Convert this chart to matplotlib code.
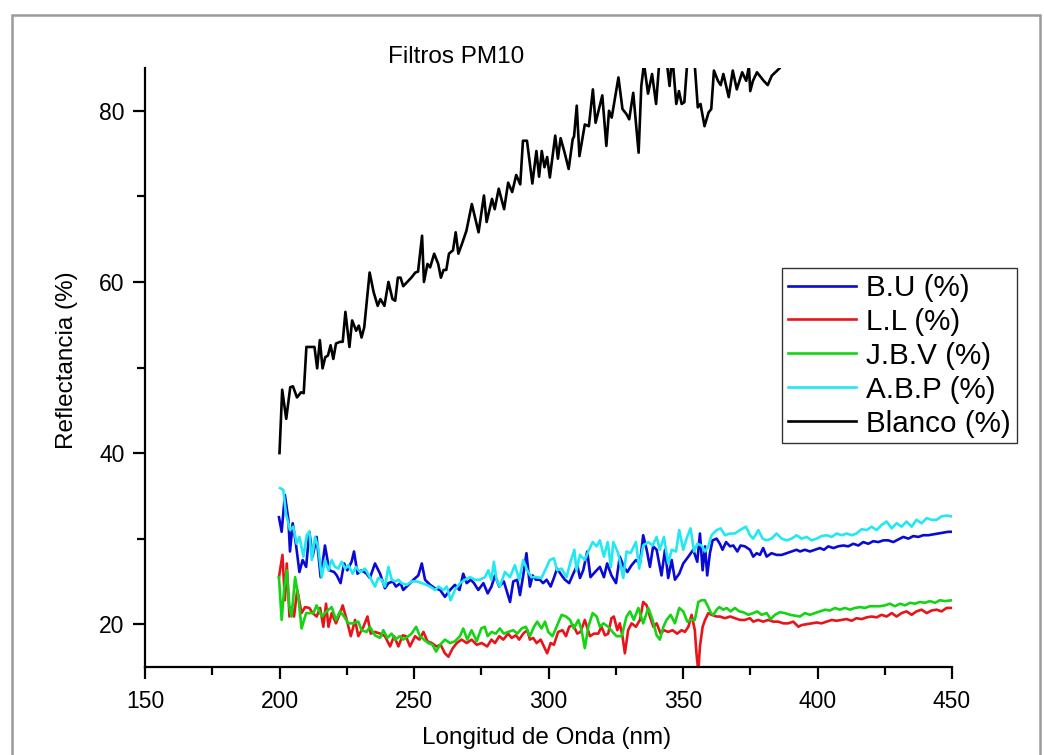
import matplotlib
matplotlib.use("Agg")
import matplotlib.pyplot as plt
from matplotlib.patches import Rectangle
from matplotlib.ticker import MultipleLocator

plt.rcParams['font.family'] = ['Liberation Sans', 'DejaVu Sans']

# ---------------- data ----------------
blanco_wl = [200, 201, 202.5, 204, 205, 206.5, 208, 209, 210, 212, 213, 214, 215, 216, 217, 218, 219, 220,
             221, 222.5, 223.5, 224.5, 226, 227, 228.5, 229.5, 230.5, 231.5, 233.5, 235, 236.5, 237.5, 239,
             240.5, 242, 243, 244, 245, 246, 247.5, 249, 250.5, 251.5, 253, 253.7, 255, 256, 257.5, 259, 260,
             261, 262, 263, 264.5, 265.5, 266.5, 268, 269.5, 271.5, 274, 276, 277, 279, 280, 281.5, 283.5,
             285, 286.5, 288, 289.5, 290.5, 292, 294, 295.5, 296.5, 297.5, 298.5, 299.5, 300.5, 302.5, 303.5,
             304.5, 306, 307.5, 309, 309.5, 310.5, 311.5, 313.5, 315, 316.5, 317.5, 320, 321.5, 322.5, 323.5,
             326, 327.5, 329, 330, 331.5, 333.5, 334.5, 335.5, 337, 338.5, 340, 341.5, 343.5, 345, 346, 347.5,
             348.5, 349.5, 350.5, 352, 354, 355.5, 356.5, 358, 359.5, 360.5, 361.5, 363, 364, 365, 367, 368.5,
             370, 371, 372, 373.5, 374.5, 375, 376, 377.5, 378.5, 380, 381.5, 383, 385, 386, 388, 390]
blanco_val = [40.0, 47.4, 44.0, 47.7, 47.8, 46.5, 47.1, 47.0, 52.4, 52.4, 52.4, 49.9, 53.2, 49.9, 51.2, 51.4,
              52.6, 51.0, 52.8, 53.0, 53.0, 56.5, 52.4, 55.5, 54.3, 54.9, 53.5, 54.7, 61.1, 58.8, 57.2, 58.0,
              57.2, 60.0, 58.0, 57.8, 60.5, 60.5, 59.5, 60.0, 60.5, 61.1, 61.2, 65.4, 60.0, 62.1, 61.7, 63.3,
              62.1, 60.5, 61.4, 61.4, 63.3, 63.7, 65.8, 63.3, 64.6, 66.0, 69.1, 65.8, 70.1, 67.0, 69.7, 68.5,
              70.9, 68.5, 71.6, 70.5, 72.5, 71.4, 76.5, 76.5, 71.5, 75.3, 72.3, 75.3, 73.4, 74.6, 72.2, 77.1,
              74.4, 76.8, 75.1, 73.2, 76.7, 77.0, 80.6, 74.7, 78.4, 78.2, 82.5, 78.6, 81.8, 75.9, 80.0, 79.2,
              83.9, 80.2, 79.6, 79.0, 82.1, 75.1, 82.9, 85.5, 82.0, 84.3, 80.8, 87.0, 87.0, 82.9, 86.5, 80.8,
              82.3, 80.8, 81.0, 87.5, 87.0, 80.4, 80.8, 78.2, 79.8, 80.2, 84.7, 83.5, 83.0, 84.3, 81.6, 84.7,
              82.5, 83.5, 84.5, 83.5, 85.2, 82.3, 83.5, 84.5, 84.1, 83.5, 83.0, 84.1, 84.7, 85.0, 86.0, 87.0]

bu_wl = [199.8, 200.8, 202.0, 203.3, 203.9, 204.9, 206.1, 207.4, 208.6, 209.9, 211.1, 212.3, 213.8, 215.3,
         216.9, 218.5, 220.3, 221.3, 222.7, 224.0, 225.2, 226.8, 227.7, 229.0, 230.5, 232.4, 233.6, 235.5,
         237.4, 239.2, 240.5, 242.1, 243.3, 245.0, 246.0, 247.9, 249.8, 251.6, 252.9, 254.1, 256.0, 257.8,
         259.7, 261.5, 263.4, 265.2, 266.9, 268.3, 269.6, 271.1, 272.3, 273.9, 275.8, 277.4, 278.8, 280.1,
         281.7, 283.4, 285.7, 286.9, 288.4, 289.4, 290.6, 291.8, 293.1, 294.1, 295.3, 296.8, 298.0, 299.3,
         300.8, 302.0, 303.2, 304.9, 306.1, 307.7, 309.2, 310.7, 311.7, 312.9, 314.4, 315.6, 317.3, 319.1,
         320.6, 321.8, 323.4, 325.1, 326.5, 328.0, 329.3, 330.9, 332.5, 334.0, 335.2, 336.5, 337.7, 338.9,
         340.2, 342.0, 343.3, 344.5, 345.8, 347.0, 348.6, 350.1, 352.0, 353.8, 355.3, 356.3, 357.3, 358.2,
         359.0, 360.0, 361.0, 362.5, 363.7, 364.7, 366.0, 367.5, 368.7, 370.2, 371.4, 373.0, 374.9, 376.1,
         377.4, 378.6, 379.8, 381.1, 382.9, 384.8, 386.7, 388.5, 390.4, 392.2, 393.5, 395.3, 397.2, 399.1,
         400.9, 402.4, 404.0, 405.9, 407.7, 409.6, 411.4, 413.3, 415.2, 417.0, 418.9, 420.7, 422.6, 424.5,
         426.3, 428.2, 430.0, 431.9, 433.8, 435.6, 437.5, 439.3, 441.2, 443.0, 444.9, 446.8, 448.6, 450.0]
bu_val = [32.5, 30.8, 35.1, 32.2, 28.5, 31.8, 29.4, 26.1, 27.5, 26.7, 30.8, 27.9, 30.2, 25.5, 29.2, 26.3,
          26.1, 25.7, 24.8, 27.1, 26.3, 27.3, 28.5, 25.9, 26.3, 25.9, 25.4, 27.1, 25.9, 24.2, 24.8, 25.0,
          24.4, 24.8, 24.0, 24.6, 25.2, 25.7, 27.1, 25.2, 24.6, 24.2, 24.0, 23.2, 24.0, 24.6, 24.0, 25.9,
          24.8, 25.2, 24.8, 24.0, 24.8, 23.6, 24.4, 25.7, 24.4, 25.0, 22.6, 25.0, 25.2, 23.4, 25.7, 28.3,
          24.4, 25.7, 25.2, 25.2, 24.8, 25.2, 24.4, 25.4, 26.5, 25.7, 25.2, 24.8, 25.9, 26.9, 25.4, 26.3,
          28.5, 25.5, 26.1, 26.7, 25.5, 27.1, 25.7, 24.8, 27.9, 26.7, 26.1, 26.9, 27.5, 27.1, 30.4, 28.7,
          26.7, 29.1, 28.7, 25.7, 28.7, 25.4, 27.5, 25.2, 25.9, 27.1, 27.9, 28.7, 27.3, 30.6, 26.3, 29.1,
          25.7, 28.3, 29.8, 30.0, 29.4, 28.7, 29.6, 29.1, 29.2, 28.5, 29.2, 29.1, 28.7, 27.9, 28.3, 28.1,
          28.9, 27.9, 28.3, 28.1, 28.1, 28.3, 28.5, 28.7, 28.5, 28.7, 28.5, 28.7, 28.9, 28.7, 29.1, 28.9,
          29.1, 29.2, 29.1, 29.4, 29.2, 29.6, 29.4, 29.7, 29.6, 29.8, 29.8, 29.6, 29.9, 30.2, 30.0, 30.3,
          30.2, 30.4, 30.4, 30.5, 30.6, 30.7, 30.8, 30.8]

ll_wl = [199.8, 201.1, 202.0, 202.7, 203.7, 204.5, 205.4, 206.6, 208.2, 209.5, 211.1, 212.3, 213.8, 215.1,
         216.3, 217.3, 218.2, 219.4, 221.0, 222.5, 223.5, 225.0, 226.5, 228.1, 229.3, 231.2, 232.7, 233.9,
         235.5, 237.4, 239.2, 241.1, 242.6, 244.2, 245.8, 247.0, 248.5, 250.4, 252.0, 253.5, 255.0, 256.6,
         258.4, 259.9, 261.5, 262.8, 264.4, 265.9, 267.7, 269.6, 271.4, 273.3, 275.2, 277.2, 278.8, 280.1,
         281.7, 283.2, 285.0, 286.3, 287.9, 289.1, 290.6, 292.1, 293.1, 294.3, 295.6, 297.1, 298.3, 299.5,
         300.8, 302.0, 303.6, 305.2, 306.5, 307.7, 309.2, 310.7, 311.9, 313.5, 315.4, 316.9, 318.5, 319.7,
         321.0, 322.2, 323.4, 324.3, 325.6, 326.5, 327.5, 328.4, 329.6, 330.9, 332.5, 334.0, 335.2, 336.5,
         337.7, 339.0, 340.2, 341.7, 342.9, 344.5, 346.1, 347.8, 349.5, 350.7, 352.0, 353.2, 354.4, 355.0,
         355.7, 356.3, 357.3, 358.2, 359.4, 360.6, 362.5, 363.7, 365.6, 367.5, 369.3, 371.2, 373.0, 374.9,
         376.1, 378.0, 379.8, 381.7, 383.6, 385.4, 387.3, 389.1, 391.0, 392.9, 394.1, 396.0, 397.8, 399.7,
         401.5, 403.4, 405.3, 407.1, 409.0, 410.8, 412.7, 414.5, 416.4, 418.3, 420.1, 422.0, 423.8, 425.7,
         427.6, 429.4, 431.3, 433.1, 435.0, 436.8, 438.7, 440.6, 442.4, 444.3, 446.1, 448.0, 450.0]
ll_val = [25.5, 28.1, 22.8, 27.1, 20.9, 22.0, 20.9, 24.0, 21.3, 22.0, 21.9, 21.3, 20.9, 21.9, 19.7, 22.4,
          19.7, 21.3, 20.1, 21.3, 22.2, 20.5, 18.6, 20.5, 18.6, 19.7, 20.9, 18.9, 19.1, 18.9, 18.6, 17.4,
          18.6, 17.4, 18.7, 18.6, 17.4, 18.6, 18.2, 19.1, 18.0, 17.8, 17.4, 17.6, 16.6, 16.2, 17.2, 17.8,
          18.2, 17.8, 18.2, 17.6, 17.8, 17.4, 18.2, 17.8, 18.6, 18.2, 18.9, 18.4, 18.7, 18.2, 18.9, 19.3,
          18.2, 18.4, 17.8, 18.2, 17.4, 16.6, 17.8, 17.6, 19.1, 19.3, 18.6, 19.7, 19.9, 18.9, 19.1, 20.5,
          18.6, 18.9, 18.9, 19.7, 18.7, 18.9, 20.7, 20.9, 19.3, 20.1, 18.6, 16.6, 19.3, 20.1, 19.7, 20.5,
          22.6, 22.2, 20.9, 19.7, 20.1, 18.9, 19.3, 19.1, 19.3, 18.9, 19.3, 19.1, 19.7, 21.1, 19.3, 16.6,
          14.5, 17.4, 19.7, 20.5, 21.3, 21.1, 20.9, 20.9, 20.7, 20.9, 20.7, 20.5, 20.5, 20.7, 20.3, 20.5,
          20.3, 20.5, 20.3, 20.3, 20.1, 20.1, 20.3, 19.7, 19.9, 20.0, 20.1, 20.2, 20.1, 20.3, 20.5, 20.4,
          20.5, 20.6, 20.4, 20.7, 20.6, 20.8, 20.9, 20.8, 21.1, 20.9, 21.3, 20.9, 21.3, 21.5, 21.1, 21.5,
          21.7, 21.3, 21.6, 21.7, 21.5, 21.9, 21.9]

jbv_wl = [199.8, 200.8, 201.7, 202.7, 203.7, 204.5, 205.8, 207.0, 208.2, 209.9, 211.3, 212.6, 213.8, 215.7,
          217.5, 219.4, 221.0, 222.5, 224.0, 225.6, 227.4, 229.3, 230.5, 232.4, 233.6, 235.5, 237.4, 238.6,
          240.1, 241.7, 243.0, 244.8, 246.0, 247.9, 249.1, 250.8, 252.2, 253.7, 255.3, 256.9, 258.2, 259.7,
          261.5, 263.4, 265.2, 267.1, 268.3, 269.8, 271.4, 273.3, 275.0, 276.3, 277.4, 278.8, 280.4, 281.9,
          283.4, 285.0, 286.9, 288.4, 290.0, 291.6, 293.1, 294.6, 295.8, 297.4, 298.7, 299.9, 301.5, 303.0,
          304.9, 306.5, 308.0, 309.4, 311.1, 312.3, 313.5, 314.8, 316.4, 317.9, 319.1, 320.4, 322.2, 323.8,
          325.3, 327.2, 329.0, 330.3, 331.7, 333.4, 335.2, 337.1, 338.7, 340.2, 341.4, 342.7, 343.9, 345.4,
          347.0, 348.6, 350.1, 351.6, 352.8, 354.4, 355.7, 356.9, 358.1, 359.4, 360.4, 361.3, 362.5, 363.5,
          365.0, 366.2, 367.7, 369.3, 370.9, 372.4, 374.3, 376.1, 377.6, 379.2, 381.1, 382.6, 384.2, 386.0,
          387.9, 389.8, 391.6, 393.5, 395.3, 397.2, 399.1, 400.9, 402.8, 404.6, 406.5, 408.3, 410.2, 412.1,
          413.9, 415.8, 417.6, 419.5, 421.4, 423.2, 425.1, 426.9, 428.8, 430.7, 432.5, 434.4, 436.2, 438.1,
          439.9, 441.8, 443.7, 445.5, 447.4, 450.0]
jbv_val = [25.5, 20.5, 24.0, 26.3, 22.0, 20.9, 25.5, 23.2, 19.5, 21.3, 21.3, 21.3, 22.2, 20.9, 21.5, 22.0,
           20.5, 21.5, 20.9, 20.1, 20.1, 20.3, 19.3, 19.1, 19.7, 18.7, 18.4, 19.3, 18.4, 18.9, 18.2, 18.6,
           18.2, 18.6, 18.9, 19.7, 18.6, 18.2, 17.8, 17.6, 16.8, 17.6, 18.2, 17.8, 18.0, 18.6, 19.5, 18.2,
           19.3, 18.0, 19.5, 19.7, 18.6, 19.1, 18.9, 19.5, 18.9, 19.1, 19.3, 18.9, 19.5, 19.7, 18.6, 19.7,
           20.3, 19.5, 20.3, 19.1, 18.6, 19.7, 21.1, 20.9, 20.5, 19.5, 20.5, 19.3, 17.2, 19.7, 21.3, 20.9,
           19.7, 20.1, 19.7, 19.1, 18.6, 18.6, 20.9, 21.5, 20.5, 21.9, 20.1, 21.9, 20.5, 18.7, 18.2, 19.7,
           20.5, 21.1, 20.1, 21.9, 21.5, 20.3, 20.5, 20.5, 22.6, 22.8, 22.8, 22.0, 21.3, 21.1, 21.7, 22.0,
           21.7, 21.9, 21.5, 21.9, 21.5, 21.4, 21.1, 21.3, 21.5, 21.1, 21.3, 20.6, 21.1, 21.4, 21.3, 21.1,
           21.0, 20.9, 21.3, 21.1, 21.3, 21.5, 21.7, 21.6, 21.9, 21.7, 21.9, 21.7, 21.9, 22.0, 21.9, 22.1,
           22.1, 22.1, 22.2, 22.4, 22.1, 22.4, 22.2, 22.5, 22.4, 22.6, 22.5, 22.7, 22.5, 22.8, 22.7, 22.8]

abp_wl = [200.2, 201.4, 202.4, 203.9, 205.1, 206.4, 207.4, 208.9, 210.1, 211.1, 212.0, 213.2, 214.4, 215.7,
          216.9, 218.2, 219.4, 220.6, 221.9, 223.1, 224.4, 225.6, 227.2, 228.4, 229.9, 231.8, 233.6, 235.5,
          236.7, 238.0, 239.2, 240.5, 241.7, 243.0, 244.2, 245.4, 247.3, 249.1, 251.0, 252.9, 254.7, 256.0,
          257.8, 259.1, 260.9, 262.2, 263.6, 265.2, 267.1, 269.0, 270.8, 272.7, 274.5, 276.4, 277.6, 278.8,
          279.7, 280.7, 281.9, 283.8, 285.7, 287.5, 289.1, 290.6, 292.1, 293.7, 295.6, 297.4, 299.3, 300.5,
          302.0, 303.2, 304.9, 306.7, 308.2, 309.6, 310.4, 311.7, 313.5, 314.8, 316.4, 317.9, 319.1, 320.6,
          322.0, 323.2, 324.1, 325.9, 327.8, 329.0, 330.5, 332.5, 333.7, 335.2, 337.1, 338.7, 340.2, 341.4,
          342.9, 344.5, 345.8, 347.4, 348.6, 350.1, 351.3, 352.8, 354.1, 355.3, 356.9, 358.2, 359.4, 360.6,
          362.5, 364.0, 365.6, 367.5, 369.3, 371.2, 373.4, 374.9, 376.1, 378.0, 379.6, 381.1, 382.9, 384.8,
          386.7, 388.5, 390.4, 392.2, 394.1, 396.0, 397.8, 399.7, 401.5, 403.4, 405.3, 407.1, 409.0, 410.8,
          412.7, 414.5, 416.4, 418.3, 420.1, 422.0, 423.8, 425.7, 427.6, 429.4, 431.3, 433.1, 435.0, 436.8,
          438.7, 440.6, 442.4, 444.3, 446.1, 448.0, 450.0]
abp_val = [35.9, 35.7, 32.9, 31.0, 31.4, 29.4, 30.2, 27.9, 30.4, 30.8, 27.5, 30.2, 29.0, 25.5, 27.5, 26.3,
           27.5, 26.7, 26.5, 27.3, 26.5, 26.9, 25.9, 26.7, 26.1, 26.5, 25.5, 24.4, 25.4, 25.2, 24.4, 26.7,
           25.2, 25.0, 25.2, 24.8, 24.6, 25.0, 25.0, 24.8, 24.6, 24.4, 24.0, 24.4, 24.0, 24.4, 22.8, 24.0,
           24.8, 25.2, 25.5, 25.2, 25.2, 25.5, 26.3, 25.2, 27.3, 25.2, 24.4, 26.1, 25.5, 26.9, 25.2, 27.5,
           26.3, 25.5, 25.5, 25.4, 26.7, 27.5, 27.7, 26.3, 26.5, 25.5, 27.3, 28.7, 26.3, 28.1, 27.5, 28.5,
           29.6, 29.1, 29.8, 27.9, 29.6, 26.7, 29.6, 28.3, 25.4, 28.5, 28.3, 29.6, 26.5, 29.2, 29.6, 29.2,
           30.2, 28.7, 30.2, 27.1, 28.7, 28.5, 31.0, 28.7, 30.0, 31.2, 28.5, 29.4, 29.2, 28.5, 29.1, 30.4,
           31.0, 31.2, 30.4, 30.6, 30.6, 31.0, 31.4, 30.4, 30.0, 31.0, 30.0, 29.8, 30.0, 30.6, 30.0, 29.8,
           30.0, 30.4, 30.0, 30.2, 29.8, 30.0, 30.3, 30.4, 30.2, 30.6, 30.4, 30.6, 30.4, 30.6, 31.1, 31.0,
           31.4, 31.0, 31.6, 32.0, 31.2, 31.8, 31.4, 32.0, 31.4, 32.2, 31.8, 32.4, 32.2, 32.2, 32.6, 32.7,
           32.6]

series_labels = ["B.U (%)", "L.L (%)", "J.B.V (%)", "A.B.P (%)", "Blanco (%)"]
series_colors = ["#0a0ad6", "#e8141a", "#14d414", "#22e8f2", "#000000"]

x_ticks = [150, 200, 250, 300, 350, 400, 450]
y_ticks = [20, 40, 60, 80]

# ---------------- figure ----------------
W, H = 1044, 755
fig = plt.figure(figsize=(W / 100, H / 100), dpi=100)
fig.patch.set_facecolor("white")
fig.patches.append(Rectangle((12 / W, -0.02), (1040 - 12) / W, 1 - 15 / H + 0.02,
                             transform=fig.transFigure, fill=False,
                             edgecolor="#9a9a9a", linewidth=1.8))

ax = fig.add_axes([145 / W, 1 - 667 / H, (952 - 145) / W, (667 - 68) / H])

all_wl = [bu_wl, ll_wl, jbv_wl, abp_wl, blanco_wl]
all_val = [bu_val, ll_val, jbv_val, abp_val, blanco_val]
handles = []
for wl, val, lab, col in zip(all_wl, all_val, series_labels, series_colors):
    h, = ax.plot(wl, val, color=col, lw=1.9, label=lab)
    handles.append(h)

ax.set_xlim(150, 450)
ax.set_ylim(15, 85)
ax.set_xticks(x_ticks)
ax.set_yticks(y_ticks)
ax.xaxis.set_minor_locator(MultipleLocator(25))
ax.yaxis.set_minor_locator(MultipleLocator(10))

for s in ["top", "right"]:
    ax.spines[s].set_visible(False)
for s in ["left", "bottom"]:
    ax.spines[s].set_linewidth(1.6)
ax.tick_params(which="major", direction="out", length=8.6, width=1.6, labelsize=16.5)
ax.tick_params(axis="x", which="major", pad=8)
ax.tick_params(axis="y", which="major", pad=6)
ax.tick_params(which="minor", direction="out", length=5.5, width=1.6)

ax.set_xlabel("Longitud de Onda (nm)", fontsize=17.5)
ax.set_ylabel("Reflectancia (%)", fontsize=17.5)
ax.xaxis.set_label_coords(0.498, (667 - 738) / (667 - 68))
ax.xaxis.label.set_va("center")
ax.yaxis.set_label_coords((67 - 145) / (952 - 145), 0.512)
ax.yaxis.label.set_va("center")

fig.text(456 / W, 1 - 57 / H, "Filtros PM10", fontsize=17.5, ha="center", va="center")

leg = ax.legend(handles=handles, loc="upper left",
                bbox_to_anchor=(782 / W, 1 - 268 / H), bbox_transform=fig.transFigure,
                borderaxespad=0, fontsize=21.3, frameon=True, fancybox=False,
                edgecolor="#333333", framealpha=1, labelspacing=0.2,
                handlelength=2.3, handletextpad=0.35, borderpad=0.2)
leg.get_frame().set_linewidth(1.0)

fig.savefig("out.png", dpi=100, facecolor="white")
